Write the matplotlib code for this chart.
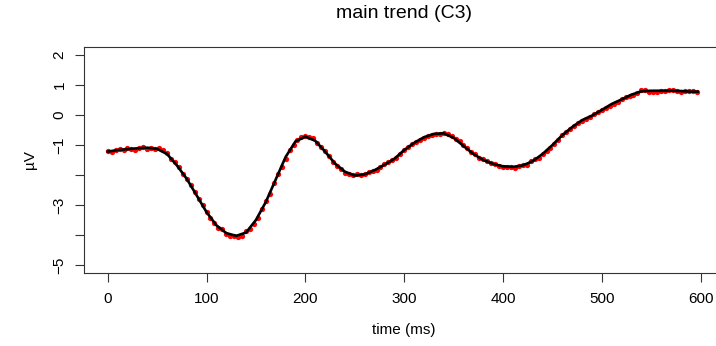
import matplotlib
matplotlib.use("Agg")
import matplotlib.pyplot as plt

plt.rcParams['font.family'] = ['Liberation Sans', 'DejaVu Sans']

# raw samples (red points), 4 ms spacing
time_pts = list(range(0, 600, 4))
values_pts = [
    -1.21, -1.22, -1.15, -1.12, -1.16, -1.10, -1.12, -1.15, -1.09, -1.07,
    -1.13, -1.09, -1.12, -1.10, -1.18, -1.27, -1.45, -1.57, -1.74, -1.97,
    -2.15, -2.33, -2.56, -2.80, -2.99, -3.22, -3.45, -3.59, -3.76, -3.81,
    -3.96, -4.04, -4.05, -4.06, -4.04, -3.88, -3.79, -3.64, -3.44, -3.12,
    -2.87, -2.63, -2.28, -1.98, -1.72, -1.47, -1.17, -0.99, -0.83, -0.72,
    -0.71, -0.74, -0.75, -0.93, -1.07, -1.21, -1.37, -1.56, -1.71, -1.80,
    -1.92, -1.96, -1.99, -1.98, -2.00, -1.97, -1.91, -1.86, -1.83, -1.73,
    -1.63, -1.56, -1.51, -1.43, -1.30, -1.18, -1.07, -0.98, -0.91, -0.84,
    -0.75, -0.70, -0.67, -0.63, -0.62, -0.60, -0.62, -0.70, -0.80, -0.86,
    -1.01, -1.10, -1.24, -1.31, -1.42, -1.46, -1.52, -1.59, -1.63, -1.71,
    -1.72, -1.75, -1.73, -1.76, -1.69, -1.67, -1.66, -1.55, -1.48, -1.43,
    -1.30, -1.20, -1.10, -0.96, -0.84, -0.65, -0.57, -0.47, -0.37, -0.28,
    -0.19, -0.13, -0.07, 0.04, 0.10, 0.16, 0.24, 0.30, 0.38, 0.44,
    0.53, 0.59, 0.64, 0.67, 0.73, 0.82, 0.83, 0.78, 0.77, 0.77,
    0.81, 0.80, 0.82, 0.82, 0.80, 0.76, 0.79, 0.81, 0.79, 0.77,
]

# smooth main trend (black line), 10 ms spacing
time_trend = list(range(0, 600, 10)) + [597]
values_trend = [
    -1.22, -1.17, -1.14, -1.11, -1.09, -1.13, -1.30, -1.68, -2.13, -2.68,
    -3.24, -3.68, -3.94, -4.03, -3.92, -3.50, -2.90, -2.15, -1.40, -0.88,
    -0.72, -0.86, -1.22, -1.62, -1.89, -2.02, -1.98, -1.84, -1.66, -1.46,
    -1.17, -0.93, -0.74, -0.63, -0.61, -0.76, -1.03, -1.30, -1.50, -1.63,
    -1.71, -1.73, -1.68, -1.54, -1.30, -1.00, -0.67, -0.40, -0.17, -0.02,
    0.17, 0.37, 0.52, 0.68, 0.79, 0.81, 0.81, 0.81, 0.80, 0.78,
    0.78,
]

xticks = [0, 100, 200, 300, 400, 500, 600]
yticks = [-5, -4, -3, -2, -1, 0, 1, 2]
ytick_labels = ['\u22125', '', '\u22123', '', '\u22121', '0', '1', '2']

W, H = 716, 346
fig = plt.figure(figsize=(W / 100, H / 100), dpi=100)
left, right, bottom, top = 84.0, 724.4, 273.3, 46.7
ax = fig.add_axes([left / W, 1 - bottom / H, (right - left) / W, (bottom - top) / H])

ax.plot(time_pts, values_pts, 'o', color='red', markersize=3.8, markeredgewidth=0)
ax.plot(time_trend, values_trend, '-', color='black', linewidth=1.9)

ax.set_xlim(-24, 624)
ax.set_ylim(-5.28, 2.28)
ax.set_xticks(xticks)
ax.set_xticklabels([str(v) for v in xticks])
ax.set_yticks(yticks)
ax.set_yticklabels(ytick_labels, rotation=90, va='center')

for s in ax.spines.values():
    s.set_color('#333333')
    s.set_linewidth(0.8)
ax.tick_params(axis='both', length=6.5, width=0.8, color='#333333', labelsize=11)
ax.tick_params(axis='x', pad=7)
ax.tick_params(axis='y', pad=6)

ax.set_title('main trend (C3)', fontsize=14, pad=21)
ax.set_xlabel('time (ms)', fontsize=11, labelpad=12)
ax.set_ylabel('\u00b5V', fontsize=11, labelpad=11)

fig.savefig('out.png', dpi=100)
